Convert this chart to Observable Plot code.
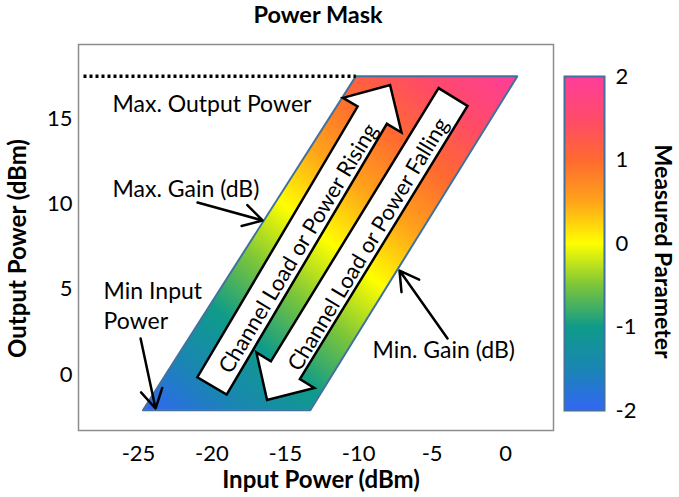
<!DOCTYPE html>
<html><head><meta charset="utf-8">
<script src="https://cdn.jsdelivr.net/npm/d3@7"></script>
<script src="https://cdn.jsdelivr.net/npm/@observablehq/plot@0.6"></script>
<style>
body{margin:0;background:#fff;font-family:Lato,sans-serif;}
#wrap{position:relative;width:679px;height:497px;overflow:hidden;}
#title{position:absolute;left:78px;width:480px;top:0;height:28px;line-height:28px;text-align:center;font-weight:bold;font-size:23.5px;color:#000;}
#main{position:absolute;left:0;top:28px;}
#bar{position:absolute;left:556px;top:28px;}
</style></head><body>
<div id="wrap"><div id="title">Power Mask</div><div id="main"></div><div id="bar"></div></div>
<script>
// ---- data ----
const xTicks = [-25, -20, -15, -10, -5, 0];
const yTicks = [0, 5, 10, 15];
const colorTicks = [-2, -1, 0, 1, 2];
const colorStops = [-2, -1.5, -1, -0.5, 0, 0.5, 1, 1.5, 2];
const colorRange = ["#3366f5", "#1a86b4", "#0f9b8a", "#7cc63a", "#ffff00", "#ffa41a", "#ff6a30", "#ff4a6a", "#ff3d9b"];

// power mask parallelogram (input dBm, output dBm)
const maskX = [-24.7, -13.3, 0.8, -10.2];
const maskY = [-2.1, -2.1, 17.5, 17.5];

// max output power dotted line
const maxOutX = [-28.75, -10.2];
const maxOutY = [17.5, 17.5];

// block arrows (tail centre -> tip)
const blockTailX = [-19.96, -3.54];
const blockTailY = [-0.70, 16.26];
const blockTipX = [-7.83, -16.21];
const blockTipY = [16.96, -1.53];
const blockLabels = ["Channel Load or Power Rising", "Channel Load or Power Falling"];
const blockLabelX = [-14.1, -9.33];
const blockLabelY = [7.39, 7.63];

// notes
const noteLabels = ["Max. Output Power", "Max. Gain (dB)", "Min Input\nPower", "Min. Gain (dB)"];
const noteX = [-26.77, -26.77, -27.38, -9.06];
const noteY = [15.96, 10.97, 4.11, 1.53];

// pointer arrows
const pointerX1 = [-20.98, -24.86, -3.95];
const pointerY1 = [10.09, 2.11, 2.11];
const pointerX2 = [-16.55, -23.84, -7.22];
const pointerY2 = [9.04, -2.0, 6.10];

// ---- derived ----
const poly = maskX.map((x, i) => [x, maskY[i]]);
const gx = 0.716, gy = 1;
const sMin = gx * maskX[0] + gy * maskY[0];
const sMax = gx * maskX[2] + gy * maskY[2];
const field = (x, y) => d3.polygonContains(poly, [x, y])
  ? -2 + 4 * ((gx * x + gy * y) - sMin) / (sMax - sMin) : NaN;

const xDomain = [-29.09, 3.27];
const yDomain = [-3.29, 19.37];
const colorScale = {type: "linear", domain: colorStops, range: colorRange, interpolate: "rgb"};
const font = {fontFamily: "Lato, sans-serif", fontSize: "22px", color: "#000", background: "transparent", overflow: "visible"};

function blockArrows(index, scales) {
  const sx = scales.x, sy = scales.y;
  const g = d3.create("svg:g");
  const w = 34, hw = 68, hl = 35;
  for (let i = 0; i < blockTailX.length; i++) {
    const tx = sx(blockTailX[i]), ty = sy(blockTailY[i]);
    const px = sx(blockTipX[i]), py = sy(blockTipY[i]);
    const L = Math.hypot(px - tx, py - ty);
    const ux = (px - tx) / L, uy = (py - ty) / L;
    const nx = -uy, ny = ux;
    const bx = px - ux * hl, by = py - uy * hl;
    const pts = [
      [tx + nx * w / 2, ty + ny * w / 2],
      [bx + nx * w / 2, by + ny * w / 2],
      [bx + nx * hw / 2, by + ny * hw / 2],
      [px, py],
      [bx - nx * hw / 2, by - ny * hw / 2],
      [bx - nx * w / 2, by - ny * w / 2],
      [tx - nx * w / 2, ty - ny * w / 2]
    ];
    g.append("path")
      .attr("d", "M" + pts.map(p => p.join(",")).join("L") + "Z")
      .attr("fill", "white").attr("stroke", "black")
      .attr("stroke-width", 2.5).attr("stroke-linejoin", "miter");
  }
  return g.node();
}

const idx = n => d3.range(n);

const main = Plot.plot({
  width: 556, height: 469,
  marginLeft: 78, marginRight: 3, marginTop: 16, marginBottom: 67,
  style: font,
  x: {domain: xDomain, ticks: xTicks, tickSize: 0, tickPadding: 15, tickFormat: d => String(d), label: null},
  y: {domain: yDomain, ticks: yTicks, tickSize: 0, tickPadding: 6, tickFormat: d => String(d), label: null},
  color: colorScale,
  marks: [
    Plot.raster({fill: field, x1: xDomain[0], x2: xDomain[1], y1: yDomain[0], y2: yDomain[1], pixelSize: 0.5}),
    Plot.line([0, 1, 2, 3, 0], {x: i => maskX[i], y: i => maskY[i], stroke: "#41719c", strokeWidth: 2}),
    Plot.line(idx(maxOutX.length), {x: i => maxOutX[i], y: i => maxOutY[i], stroke: "black", strokeWidth: 3.5, strokeDasharray: "3,3", strokeLinecap: "butt"}),
    blockArrows,
    Plot.text(idx(blockLabels.length), {x: i => blockLabelX[i], y: i => blockLabelY[i], text: i => blockLabels[i], rotate: -59, fontSize: 22, fill: "black"}),
    Plot.text(idx(noteLabels.length), {x: i => noteX[i], y: i => noteY[i], text: i => noteLabels[i], textAnchor: "start", fontSize: 23, lineHeight: 1.32, fill: "black"}),
    Plot.arrow(idx(pointerX1.length), {x1: i => pointerX1[i], y1: i => pointerY1[i], x2: i => pointerX2[i], y2: i => pointerY2[i], stroke: "black", strokeWidth: 2.5, headLength: 13}),
    Plot.frame({stroke: "#8c8c8c", strokeWidth: 1.5}),
    Plot.text(["Input Power (dBm)"], {frameAnchor: "bottom", textAnchor: "middle", dy: 57, dx: 5, fontWeight: "bold", fontSize: 24, fill: "black"}),
    Plot.text(["Output Power (dBm)"], {frameAnchor: "left", textAnchor: "middle", dx: -60, dy: 11, rotate: -90, fontWeight: "bold", fontSize: 24, fill: "black"})
  ]
});
document.getElementById("main").appendChild(main);

const bar = Plot.plot({
  width: 123, height: 469,
  marginLeft: 8, marginRight: 75, marginTop: 48, marginBottom: 87,
  style: font,
  x: {domain: [0, 1], axis: null},
  y: {domain: [-2, 2], ticks: colorTicks, axis: "right", tickSize: 0, tickPadding: 11, tickFormat: d => String(d), label: null},
  color: colorScale,
  marks: [
    Plot.raster({fill: (x, y) => y, x1: 0, x2: 1, y1: -2, y2: 2}),
    Plot.frame({stroke: "#41719c", strokeWidth: 2}),
    Plot.text(["Measured Parameter"], {frameAnchor: "right", textAnchor: "middle", dx: 58, dy: 8, rotate: 90, fontWeight: "bold", fontSize: 23, fill: "black"})
  ]
});
document.getElementById("bar").appendChild(bar);
</script>
</body></html>
